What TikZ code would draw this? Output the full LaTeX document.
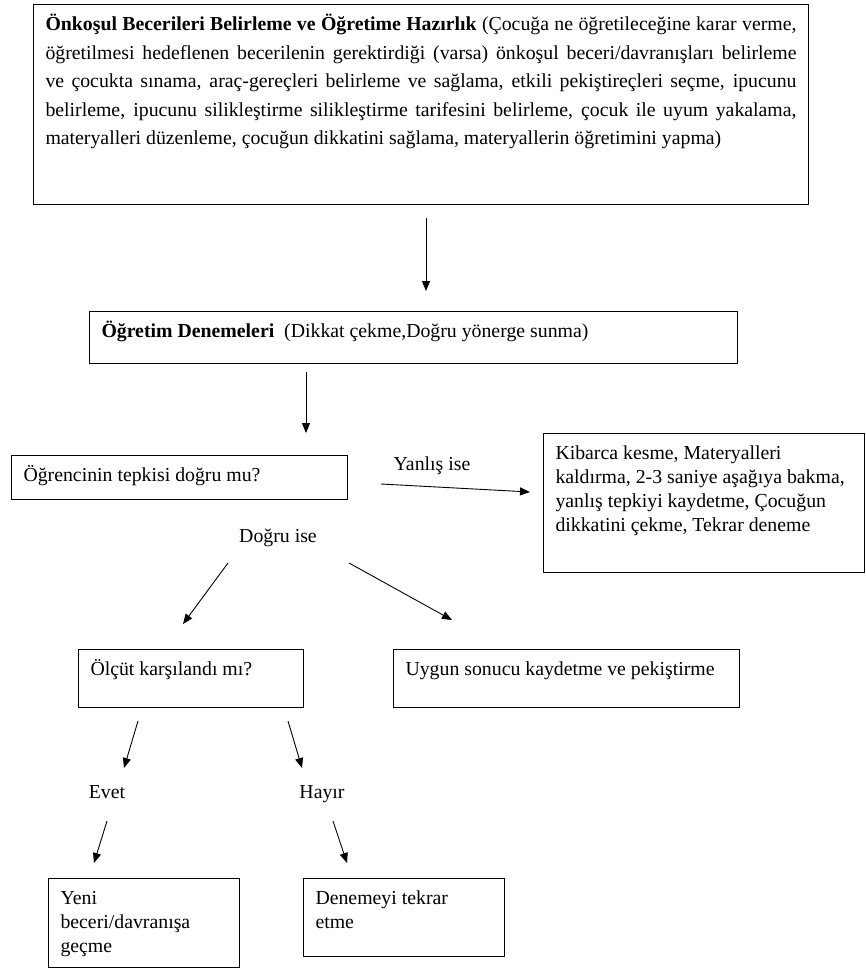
\documentclass[tikz,border=0pt]{standalone}
\usepackage{fontspec}
\setmainfont{Liberation Serif}
\usetikzlibrary{arrows.meta,positioning}

% text block of a box: width, height, text (top aligned)
\newcommand{\kutuyazi}[3]{\parbox[c][#2][t]{#1}{\rule{0pt}{25.5pt}#3}}

\begin{document}
\begin{tikzpicture}[x=1pt, y=-1pt,
    every node/.style={font=\fontsize{19.8}{24}\selectfont},
    kutu/.style={draw, line width=1pt, inner xsep=12pt, inner ysep=0pt, anchor=north west},
    etiket/.style={anchor=base},
    ok/.style={-{Triangle[length=10pt,width=8pt]}, line width=0.9pt}]
    \useasboundingbox (0,0) rectangle (866,969);

    % Preparation box
    \node[kutu, font=\fontsize{19.8}{28.5}\selectfont] (hazirlik) at (33,4) {\parbox[c][200pt][t]{751pt}{\rule{0pt}{26pt}\textbf{Önkoşul Becerileri Belirleme ve Öğretime Hazırlık} (Çocuğa ne öğretileceğine karar verme,\linebreak
      öğretilmesi hedeflenen becerilenin gerektirdiği (varsa) önkoşul beceri/davranışları belirleme\linebreak
      ve çocukta sınama, araç-gereçleri belirleme ve sağlama, etkili pekiştireçleri seçme, ipucunu\linebreak
      belirleme, ipucunu silikleştirme silikleştirme tarifesini belirleme, çocuk ile uyum yakalama,\linebreak
      materyalleri düzenleme, çocuğun dikkatini sağlama, materyallerin öğretimini yapma)}};

    % Teaching trials
    \node[kutu] (deneme) at (89,311) {\kutuyazi{624pt}{52pt}{\textbf{Öğretim Denemeleri}~ (Dikkat çekme,Doğru yönerge sunma)}};
    \node[kutu] (tepki) at (11,455) {\kutuyazi{312pt}{44pt}{Öğrencinin tepkisi doğru mu?}};
    \node[kutu] (yanlisbox) at (543,433) {\kutuyazi{297pt}{139pt}{Kibarca kesme, Materyalleri\\
      kaldırma, 2-3 saniye aşağıya bakma,\\
      yanlış tepkiyi kaydetme, Çocuğun\\
      dikkatini çekme, Tekrar deneme}};

    % Correct answer
    \node[kutu] (olcut) at (78,649) {\kutuyazi{201pt}{58pt}{Ölçüt karşılandı mı?}};
    \node[kutu] (uygun) at (393,649) {\kutuyazi{322pt}{58pt}{Uygun sonucu kaydetme ve pekiştirme}};
    \node[kutu] (yeni) at (48,878) {\kutuyazi{167pt}{89pt}{Yeni\\ beceri/davranışa\\ geçme}};
    \node[kutu] (tekrar) at (303,878) {\kutuyazi{177pt}{78pt}{Denemeyi tekrar\\ etme}};

    % Labels
    \node[etiket] (yanlis) at (432,470) {Yanlış ise};
    \node[etiket] (dogru) at (278,542) {Doğru ise};
    \node[etiket] (evet) at (107,798) {Evet};
    \node[etiket] (hayir) at (322,798) {Hayır};

    % Arrow ends
    \coordinate (a1) at (426,218);  \coordinate (b1) at (426,291);
    \coordinate (a2) at (306,372);  \coordinate (b2) at (306,433);
    \coordinate (a3) at (381,484);  \coordinate (b3) at (530,492);
    \coordinate (a4) at (228,563);  \coordinate (b4) at (183,624);
    \coordinate (a5) at (349,563);  \coordinate (b5) at (452,620);
    \coordinate (a6) at (138,721);  \coordinate (b6) at (124,768);
    \coordinate (a7) at (288,721);  \coordinate (b7) at (302,768);
    \coordinate (a8) at (107,821);  \coordinate (b8) at (94,863);
    \coordinate (a9) at (333,821);  \coordinate (b9) at (347,863);

    % Arrows
    \draw[ok] (a1) -- (b1);
    \draw[ok] (a2) -- (b2);
    \draw[ok] (a3) -- (b3);
    \draw[ok] (a4) -- (b4);
    \draw[ok] (a5) -- (b5);
    \draw[ok] (a6) -- (b6);
    \draw[ok] (a7) -- (b7);
    \draw[ok] (a8) -- (b8);
    \draw[ok] (a9) -- (b9);
\end{tikzpicture}
\end{document}
